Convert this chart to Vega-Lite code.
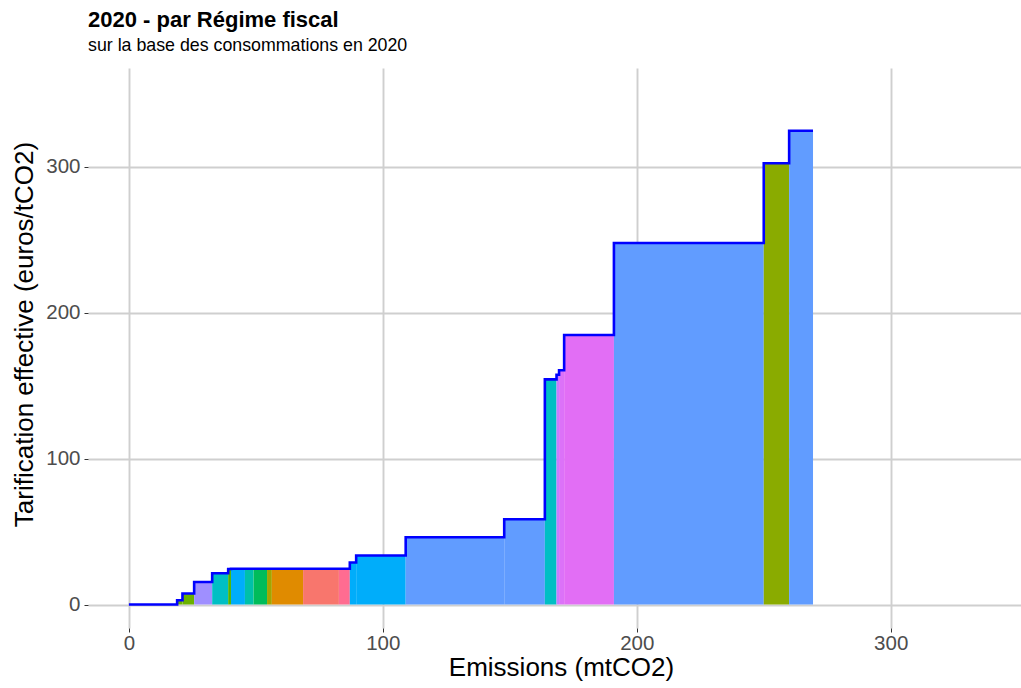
{
  "$schema": "https://vega.github.io/schema/vega-lite/v6.json",
  "width": 933,
  "height": 560,
  "autosize": {"type": "none"},
  "padding": {"left": 88, "top": 68, "right": 0, "bottom": 60},
  "background": "white",
  "title": {
    "text": "2020 - par Régime fiscal",
    "subtitle": "sur la base des consommations en 2020",
    "anchor": "start",
    "frame": "group",
    "font": "Liberation Sans",
    "fontSize": 22,
    "fontWeight": "bold",
    "color": "black",
    "subtitleFont": "Liberation Sans",
    "subtitleFontSize": 17.8,
    "subtitleColor": "black",
    "offset": 12,
    "subtitlePadding": 5
  },
  "datasets": {
    "blocs": [
      {"debut": 19.0, "fin": 21.1, "tarif": 2.9, "regime": "Régime 01"},
      {"debut": 21.1, "fin": 25.7, "tarif": 7.5, "regime": "Régime 01"},
      {"debut": 25.7, "fin": 32.8, "tarif": 15.4, "regime": "Régime 02"},
      {"debut": 32.8, "fin": 39.1, "tarif": 21.4, "regime": "Régime 03"},
      {"debut": 39.1, "fin": 40.2, "tarif": 24.3, "regime": "Régime 04"},
      {"debut": 40.2, "fin": 45.7, "tarif": 24.5, "regime": "Régime 05"},
      {"debut": 45.7, "fin": 49.1, "tarif": 24.5, "regime": "Régime 06"},
      {"debut": 49.1, "fin": 54.4, "tarif": 24.5, "regime": "Régime 07"},
      {"debut": 54.4, "fin": 56.3, "tarif": 24.5, "regime": "Régime 08"},
      {"debut": 56.3, "fin": 68.6, "tarif": 24.5, "regime": "Régime 09"},
      {"debut": 68.6, "fin": 82.7, "tarif": 24.5, "regime": "Régime 10"},
      {"debut": 82.7, "fin": 87.0, "tarif": 24.5, "regime": "Régime 11"},
      {"debut": 87.0, "fin": 89.5, "tarif": 28.8, "regime": "Régime 05"},
      {"debut": 89.5, "fin": 109.0, "tarif": 33.6, "regime": "Régime 05"},
      {"debut": 109.0, "fin": 147.8, "tarif": 46.1, "regime": "Régime 12"},
      {"debut": 147.8, "fin": 163.8, "tarif": 58.4, "regime": "Régime 12"},
      {"debut": 163.8, "fin": 168.4, "tarif": 154.3, "regime": "Régime 03"},
      {"debut": 168.4, "fin": 169.4, "tarif": 157.5, "regime": "Régime 13"},
      {"debut": 169.4, "fin": 171.4, "tarif": 160.5, "regime": "Régime 14"},
      {"debut": 171.4, "fin": 191.0, "tarif": 184.7, "regime": "Régime 15"},
      {"debut": 191.0, "fin": 250.0, "tarif": 247.8, "regime": "Régime 12"},
      {"debut": 250.0, "fin": 260.0, "tarif": 302.4, "regime": "Régime 16"},
      {"debut": 260.0, "fin": 269.4, "tarif": 324.7, "regime": "Régime 12"}
    ],
    "courbe": [
      {"emissions": 0, "tarif": 0},
      {"emissions": 19.0, "tarif": 2.9},
      {"emissions": 21.1, "tarif": 7.5},
      {"emissions": 25.7, "tarif": 15.4},
      {"emissions": 32.8, "tarif": 21.4},
      {"emissions": 39.1, "tarif": 24.3},
      {"emissions": 40.2, "tarif": 24.5},
      {"emissions": 87.0, "tarif": 28.8},
      {"emissions": 89.5, "tarif": 33.6},
      {"emissions": 109.0, "tarif": 46.1},
      {"emissions": 147.8, "tarif": 58.4},
      {"emissions": 163.8, "tarif": 154.3},
      {"emissions": 168.4, "tarif": 157.5},
      {"emissions": 169.4, "tarif": 160.5},
      {"emissions": 171.4, "tarif": 184.7},
      {"emissions": 191.0, "tarif": 247.8},
      {"emissions": 250.0, "tarif": 302.4},
      {"emissions": 260.0, "tarif": 324.7},
      {"emissions": 269.4, "tarif": 324.7}
    ]
  },
  "layer": [
    {
      "data": {"name": "blocs"},
      "mark": {"type": "rect", "strokeWidth": 0},
      "encoding": {
        "x": {
          "field": "debut",
          "type": "quantitative",
          "scale": {"domain": [-16.1, 351.3], "nice": false, "zero": false},
          "axis": {"values": [0, 100, 200, 300], "titleX": 473},
          "title": "Emissions (mtCO2)"
        },
        "x2": {"field": "fin"},
        "y": {
          "field": "tarif",
          "type": "quantitative",
          "scale": {"domain": [-16.1, 367.7], "nice": false, "zero": false},
          "axis": {"values": [0, 100, 200, 300], "titleY": 266},
          "title": "Tarification effective (euros/tCO2)"
        },
        "y2": {"datum": 0},
        "color": {
          "field": "regime",
          "type": "nominal",
          "scale": {
            "domain": ["Régime 01", "Régime 02", "Régime 03", "Régime 04", "Régime 05", "Régime 06", "Régime 07", "Régime 08", "Régime 09", "Régime 10", "Régime 11", "Régime 12", "Régime 13", "Régime 14", "Régime 15", "Régime 16"],
            "range": ["#6BB100", "#9F8FFF", "#00BFC4", "#53B400", "#00ADFA", "#00C0A8", "#00BC5A", "#A3A500", "#E08B00", "#F8766D", "#FF6C91", "#619CFF", "#C77CFF", "#DC72F8", "#E26EF5", "#8AAB00"]
          },
          "legend": null
        }
      }
    },
    {
      "data": {"name": "courbe"},
      "mark": {"type": "line", "interpolate": "step-after", "color": "#0000FF", "strokeWidth": 2.6},
      "encoding": {
        "x": {"field": "emissions", "type": "quantitative"},
        "y": {"field": "tarif", "type": "quantitative"}
      }
    }
  ],
  "config": {
    "view": {"stroke": null},
    "axis": {
      "domain": false,
      "grid": true,
      "gridColor": "#CFCFCF",
      "gridWidth": 1.9,
      "ticks": true,
      "tickColor": "#333333",
      "tickSize": 4,
      "tickWidth": 1,
      "labelFont": "Liberation Sans",
      "labelFontSize": 20.5,
      "labelColor": "#4D4D4D",
      "titleFont": "Liberation Sans",
      "titleFontSize": 26,
      "titleFontWeight": "normal",
      "titleColor": "black"
    },
    "axisX": {"labelPadding": 1, "titlePadding": 1},
    "axisY": {"labelPadding": 4, "titlePadding": 8}
  }
}
